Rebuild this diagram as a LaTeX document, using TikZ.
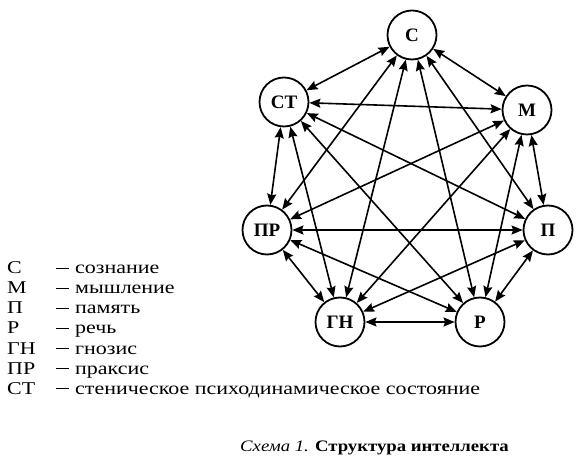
\documentclass[tikz,border=0pt]{standalone}
\usepackage{fontspec}
\setmainfont{Liberation Serif}
\newfontfamily\legfont[FakeStretch=1.22]{Liberation Serif}
\newfontfamily\capfont[FakeStretch=1.17]{Liberation Serif}
\usetikzlibrary{arrows.meta}
\begin{document}
\begin{tikzpicture}[x=1pt,y=1pt,
  vert/.style={circle,draw,line width=1.8pt,minimum size=49pt,inner sep=0pt,font=\fontsize{19}{19}\selectfont\bfseries},
  link/.style={line width=1.6pt,{Stealth[length=11pt,width=9pt,inset=1.5pt]}-{Stealth[length=11pt,width=9pt,inset=1.5pt]}},
  legend/.style={anchor=base west,inner sep=0pt,font=\legfont\fontsize{18}{18}\selectfont},
]
\useasboundingbox (0,0) rectangle (585,460);
\node[vert] (S)  at (412,425) {С};
\node[vert] (ST) at (284,358) {СТ};
\node[vert] (M)  at (527,350) {М};
\node[vert] (PR) at (267,230) {ПР};
\node[vert] (P)  at (548,230) {П};
\node[vert] (GN) at (340,138) {ГН};
\node[vert] (R)  at (480,138) {Р};
\foreach \a/\b in {S/ST,S/M,S/PR,S/GN,S/R,S/P,ST/M,ST/PR,ST/GN,ST/R,ST/P,M/PR,M/GN,M/R,M/P,PR/P,PR/GN,PR/R,P/GN,P/R,GN/R}
  \draw[link] (\a) -- (\b);
\foreach \ab/\txt/\yy [count=\i] in {С/сознание/186,М/мышление/166,П/память/146,Р/речь/126,ГН/гнозис/106,ПР/праксис/86,СТ/стеническое психодинамическое состояние/66}{
  \node[legend] (ab\i) at (7,\yy) {\ab};
  \node[legend] (dash\i) at (56,\yy) {\rule[5pt]{13pt}{1pt}};
  \node[legend] (tx\i) at (75,\yy) {\txt};
}
\node[anchor=base west,inner sep=0pt,font=\capfont\fontsize{16}{16}\selectfont] (cap) at (240,9) {\textit{Схема 1.} \textbf{Структура интеллекта}};
\end{tikzpicture}
\end{document}
